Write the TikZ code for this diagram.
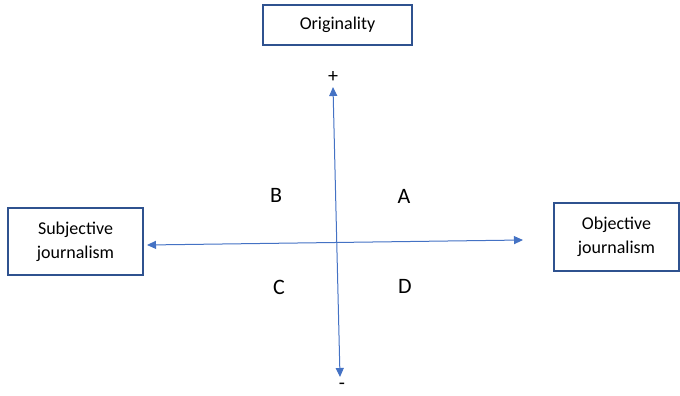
\documentclass[tikz,border=0pt]{standalone}
\usepackage{fontspec}
\setmainfont{Carlito}
\usetikzlibrary{arrows.meta}
\definecolor{boxc}{HTML}{2F528F}
\definecolor{linec}{HTML}{4472C4}
\begin{document}
\begin{tikzpicture}[x=1pt,y=-1pt,
  lbl/.style={draw=boxc,line width=1.2pt,fill=white,align=center,font=\fontsize{18}{24}\selectfont,inner sep=0pt},
  axis/.style={draw=linec,line width=1pt,{Triangle[length=9pt,width=8pt]}-{Triangle[length=9pt,width=8pt]}},
  quad/.style={font=\fontsize{22}{26}\selectfont},
  sign/.style={font=\fontsize{20}{24}\selectfont,inner sep=0pt}]
\useasboundingbox (0,0) rectangle (680,396);
\node[lbl,minimum width=149pt,minimum height=40pt] (orig) at (337.5,25) {Originality};
\node[lbl,minimum width=135pt,minimum height=67pt] (subj) at (75.5,241.5) {Subjective\\journalism};
\node[lbl,minimum width=125pt,minimum height=68pt] (obj) at (616.5,237) {Objective\\journalism};
\node[sign] (plus) at (333,77) {+};
\node[sign] (minus) at (342,386) {-};
\coordinate (vt) at (333,87);
\coordinate (vb) at (340,377);
\coordinate (hl) at (147,245);
\coordinate (hr) at (523,240);
\draw[axis] (vt) -- (vb);
\draw[axis] (hl) -- (hr);
\node[quad] (B) at (276,195) {B};
\node[quad] (A) at (404,196) {A};
\node[quad] (C) at (279,287) {C};
\node[quad] (D) at (405,286) {D};
\end{tikzpicture}
\end{document}
